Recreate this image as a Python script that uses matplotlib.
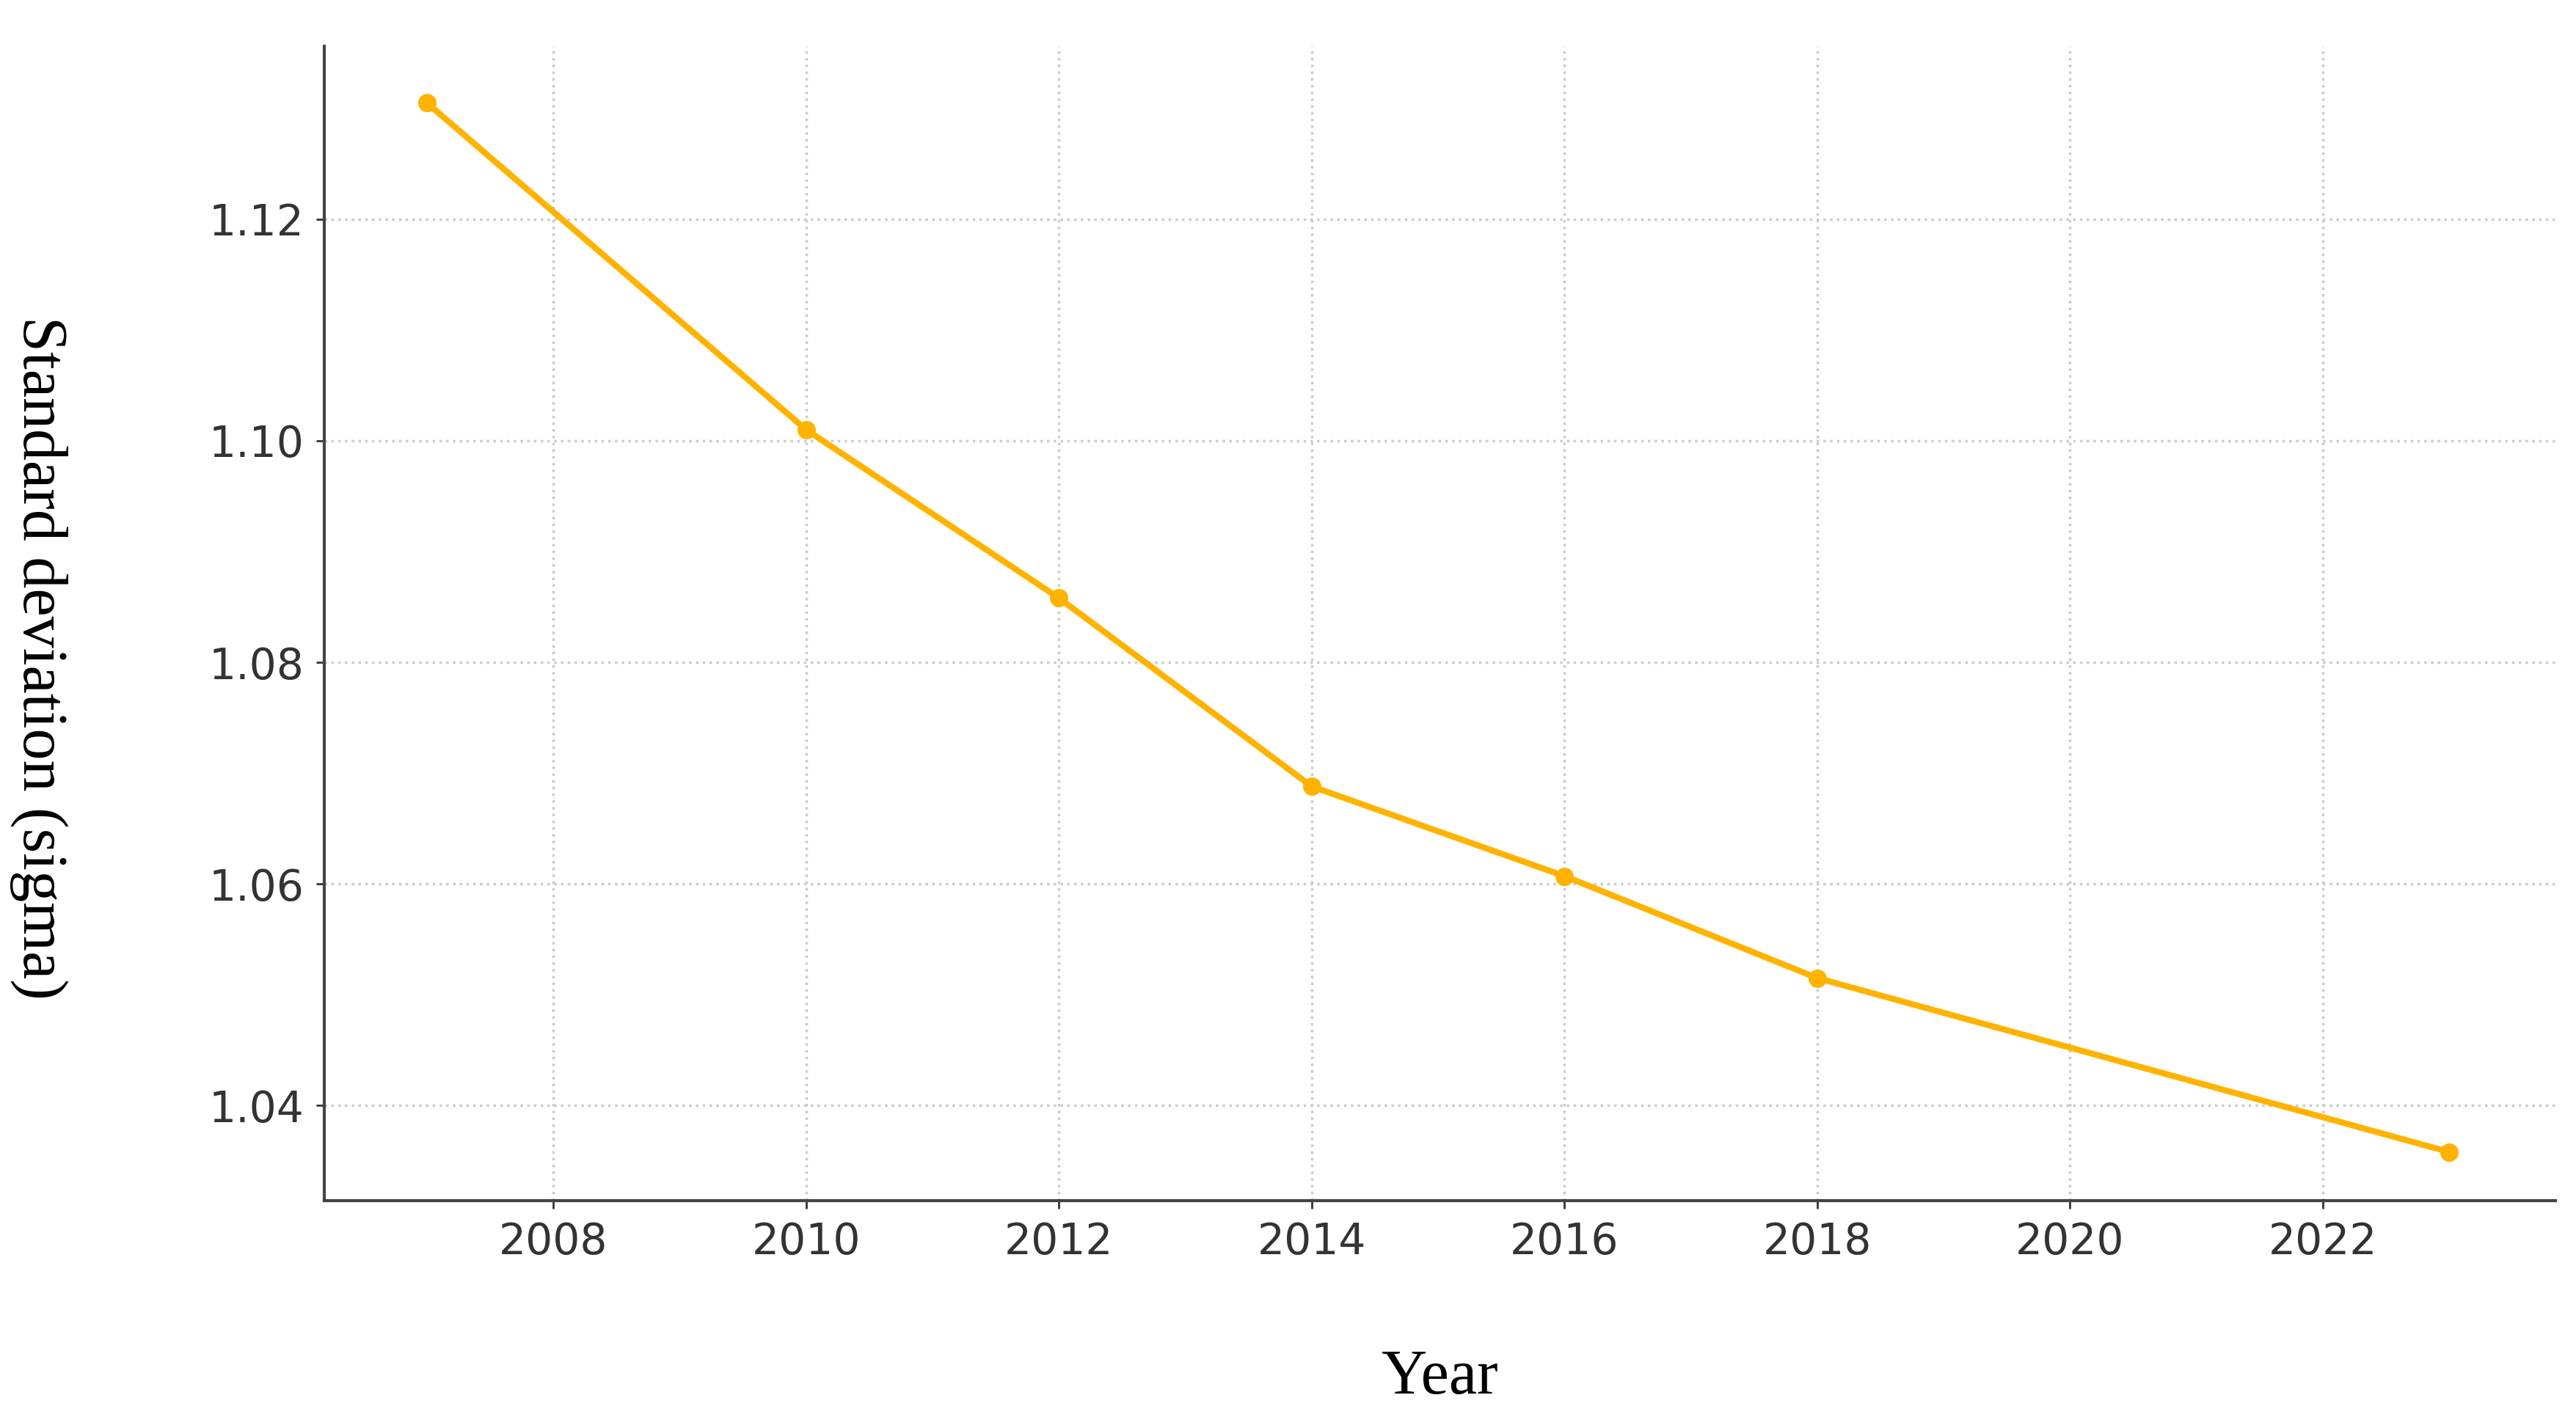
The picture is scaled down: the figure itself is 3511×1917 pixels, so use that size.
import matplotlib.pyplot as plt

years = [2007, 2010, 2012, 2014, 2016, 2018, 2023]
sigma = [1.1305, 1.1010, 1.0858, 1.0688, 1.0607, 1.0515, 1.0358]
x_ticks = [2008, 2010, 2012, 2014, 2016, 2018, 2020, 2022]
y_ticks = [1.04, 1.06, 1.08, 1.10, 1.12]

fig = plt.figure(figsize=(35.11, 19.17), dpi=100)
ax = fig.add_axes([0.126, 0.146, 0.866, 0.821])

ax.plot(years, sigma, color="#FFB300", linewidth=6, marker="o", markersize=17)

ax.set_xlim(2006.19, 2023.84)
ax.set_ylim(1.0314, 1.1356)
ax.set_xticks(x_ticks)
ax.set_yticks(y_ticks)
ax.set_yticklabels([f"{v:.2f}" for v in y_ticks])
ax.tick_params(labelsize=42, colors="#333333", length=8, width=2, pad=12)
ax.grid(True, color="#cccccc", linestyle=":", linewidth=2.5)

for side in ("top", "right"):
    ax.spines[side].set_visible(False)
for side in ("left", "bottom"):
    ax.spines[side].set_color("#444444")
    ax.spines[side].set_linewidth(3)

ax.set_xlabel("Year", family="Liberation Serif", fontsize=62, labelpad=85)
ax.set_ylabel("Standard deviation (sigma)", family="Liberation Serif", fontsize=62,
              rotation=270, va="top")
ax.yaxis.set_label_coords(-0.115, 0.47)

fig.savefig("out.png", dpi=100)
